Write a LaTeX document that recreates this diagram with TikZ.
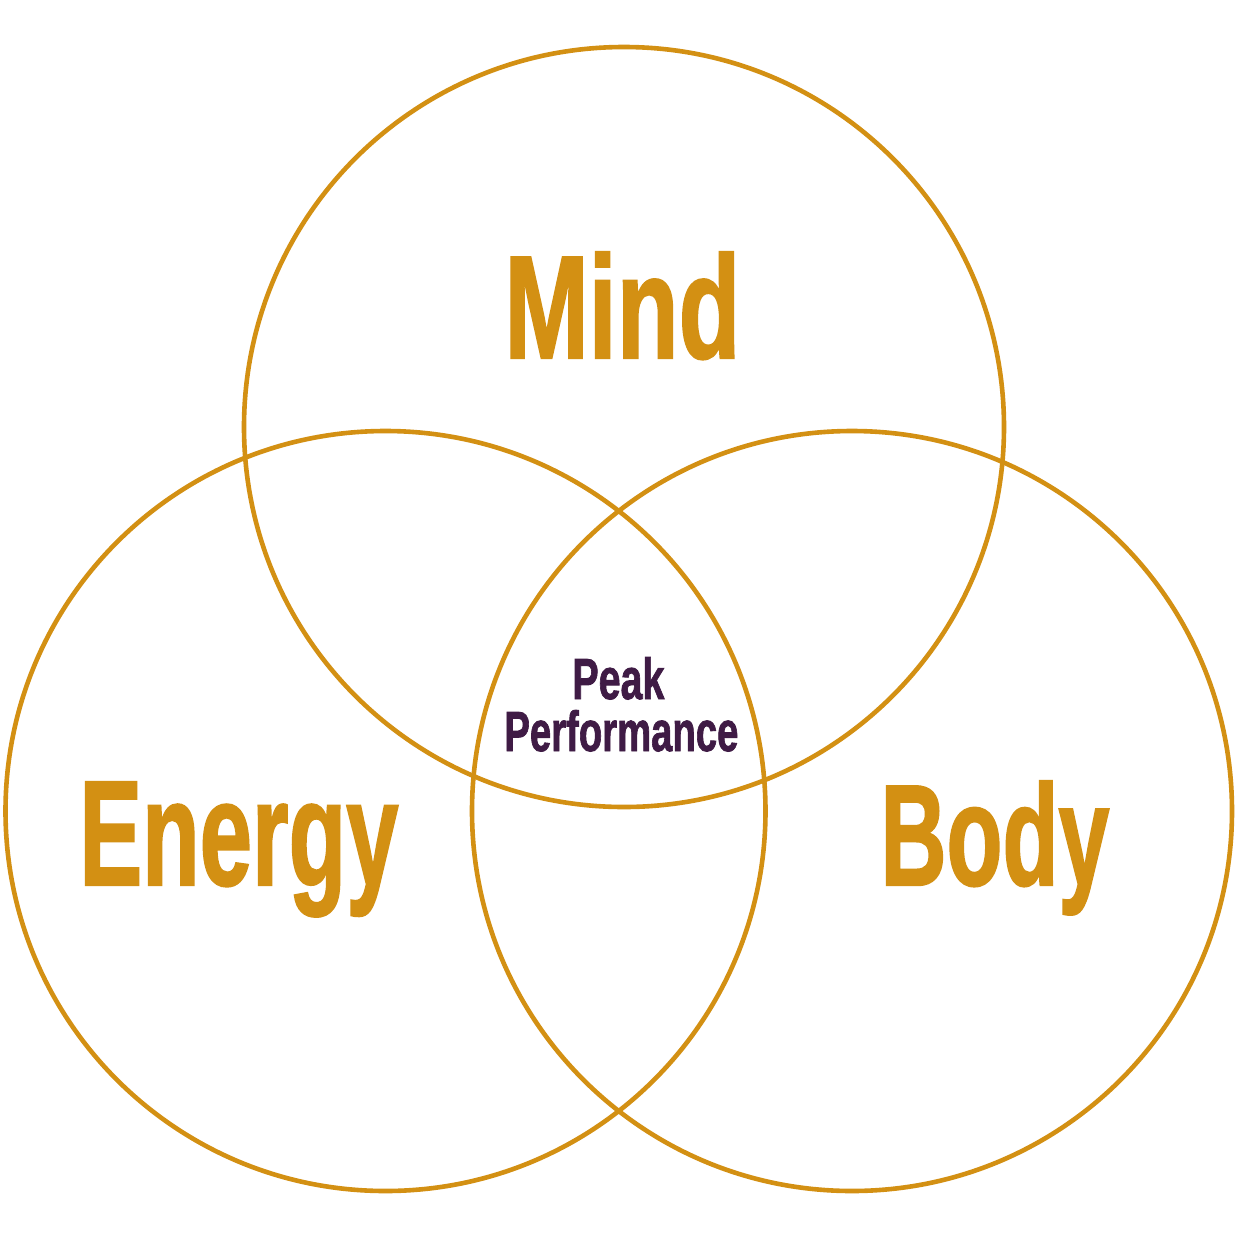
\documentclass[tikz,border=0pt]{standalone}
\usepackage{fontspec}
\setmainfont{Liberation Sans}[BoldFeatures={FakeBold=1.6}]
\usepackage{graphicx}
\definecolor{gold}{HTML}{D39013}
\definecolor{plum}{HTML}{3F1B45}
\begin{document}
\begin{tikzpicture}[x=0.5pt,y=-0.5pt,
  ring/.style={draw=gold,line width=2.3pt},
  biglabel/.style={text=gold,inner sep=0pt,anchor=base west,font=\bfseries},
  smalllabel/.style={text=plum,inner sep=0pt,anchor=base west,font=\bfseries}]
\useasboundingbox (0,0) rectangle (1238,1238);
\fill[white] (0,0) rectangle (1238,1238);
\draw[ring] (624,427) circle[radius=380];
\draw[ring] (385.5,811) circle[radius=380];
\draw[ring] (852,811) circle[radius=380];
\node[biglabel] (mind) at (504,358) {\resizebox{118pt}{53pt}{Mind}};
\node[biglabel] (energy) at (79,885) {\resizebox{159.5pt}{51.5pt}{Energy}};
\node[biglabel] (body) at (880,885) {\resizebox{114.5pt}{52pt}{Body}};
\node[smalllabel] (peak) at (572,699) {\resizebox{46pt}{21pt}{Peak}};
\node[smalllabel] (perf) at (504,751) {\resizebox{117pt}{20.5pt}{Performance}};
\end{tikzpicture}
\end{document}
